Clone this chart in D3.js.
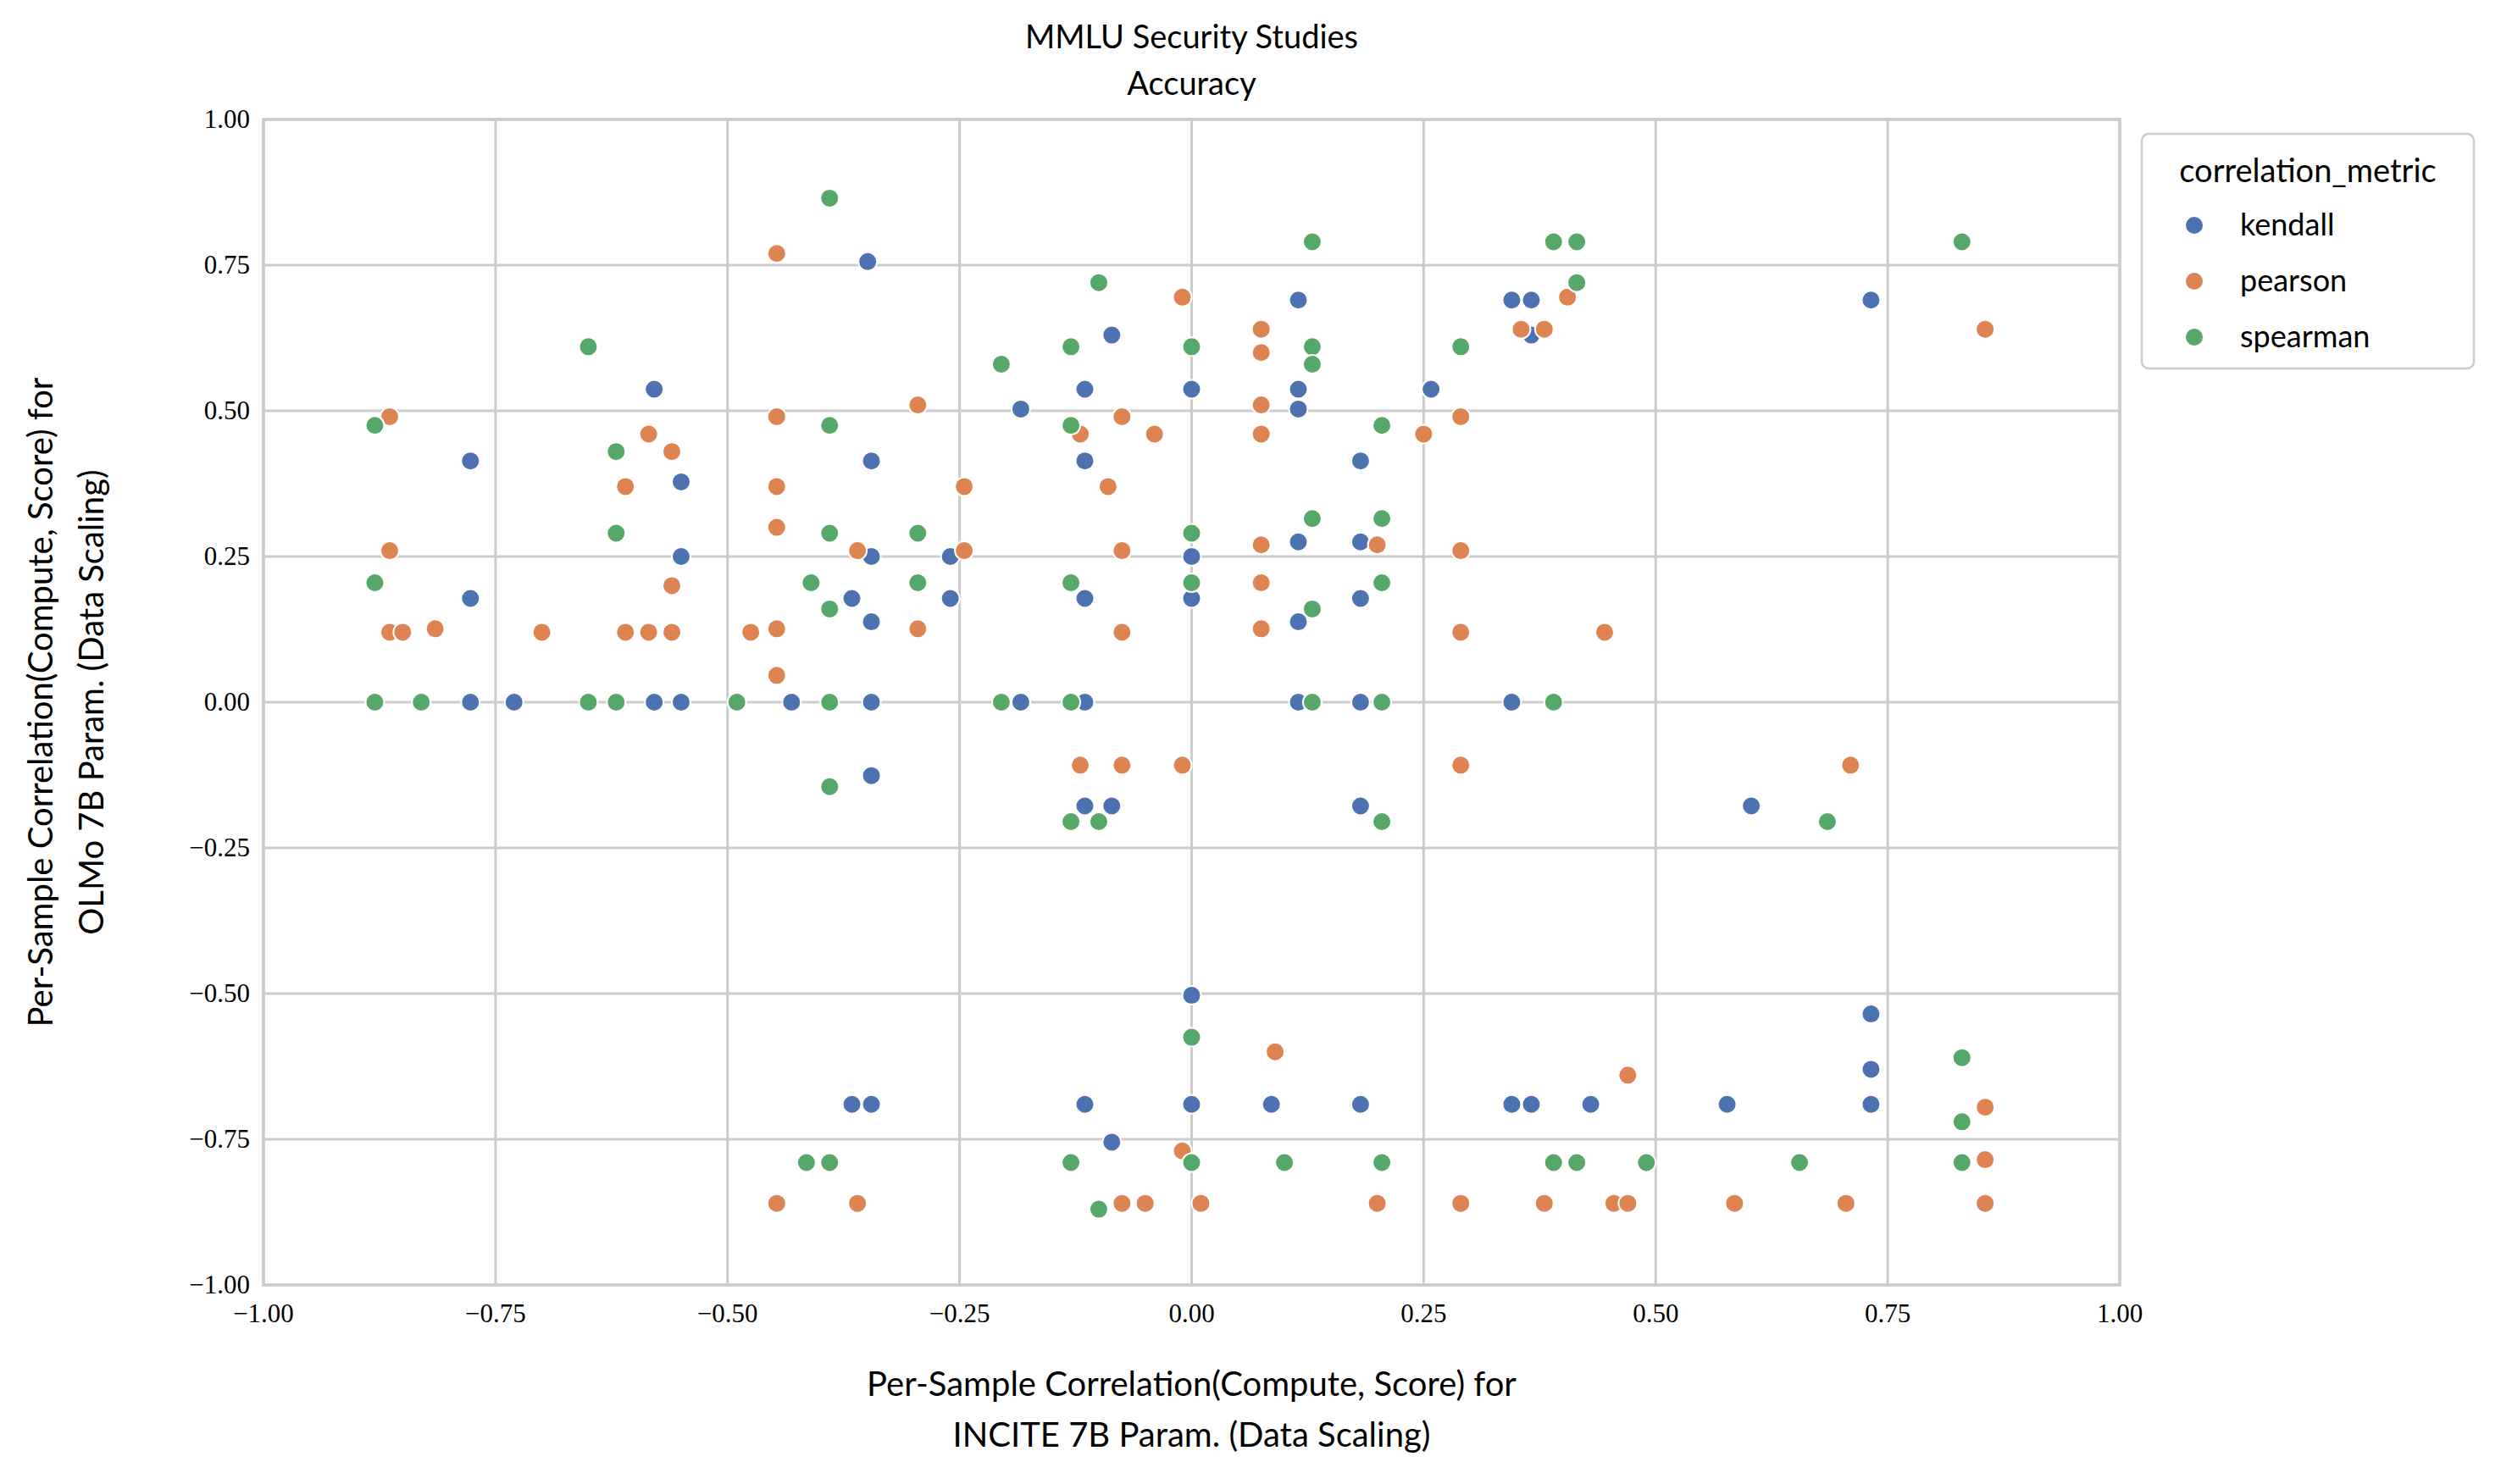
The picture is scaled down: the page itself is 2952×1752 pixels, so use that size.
<!DOCTYPE html>
<html><head><meta charset="utf-8">
<script src="https://cdn.jsdelivr.net/npm/d3@7"></script>
<style>body{margin:0;background:#fff}</style>
</head><body>
<svg id="c" width="2952" height="1752"></svg>
<script>
const metrics = ["kendall","pearson","spearman"];
const colors = ["#4c72b0","#dd8452","#55a868"];
const ticks = [-1,-0.75,-0.5,-0.25,0,0.25,0.5,0.75,1];
const kendall = [[-0.777,0.414],[-0.777,0.178],[-0.777,0],[-0.73,0],[-0.579,0.537],[-0.579,0],[-0.55,0.378],[-0.55,0.25],[-0.55,0],[-0.431,0],[-0.366,0.178],[-0.349,0.756],[-0.345,0.414],[-0.345,0.25],[-0.345,0.138],[-0.345,0],[-0.345,-0.126],[-0.26,0.25],[-0.26,0.178],[-0.184,0.503],[-0.184,0],[-0.115,0.537],[-0.115,0.414],[-0.115,0.178],[-0.115,0],[-0.115,-0.178],[-0.086,0.63],[-0.086,-0.178],[0,0.537],[0,0.25],[0,0.178],[0.115,0.69],[0.115,0.537],[0.115,0.503],[0.115,0.275],[0.115,0.138],[0.115,0],[0.182,0.414],[0.182,0.275],[0.182,0.178],[0.182,0],[0.182,-0.178],[0.258,0.537],[0.345,0.69],[0.366,0.69],[0.366,0.63],[0.345,0],[0.603,-0.178],[0.732,0.69],[0,-0.503],[-0.366,-0.69],[-0.345,-0.69],[-0.115,-0.69],[-0.086,-0.755],[0,-0.69],[0.086,-0.69],[0.182,-0.69],[0.345,-0.69],[0.366,-0.69],[0.43,-0.69],[0.577,-0.69],[0.732,-0.535],[0.732,-0.63],[0.732,-0.69]];
const pearson = [[-0.864,0.49],[-0.864,0.26],[-0.864,0.12],[-0.85,0.12],[-0.815,0.126],[-0.7,0.12],[-0.585,0.46],[-0.61,0.37],[-0.56,0.43],[-0.56,0.2],[-0.61,0.12],[-0.585,0.12],[-0.56,0.12],[-0.447,0.77],[-0.447,0.49],[-0.447,0.37],[-0.447,0.3],[-0.447,0.126],[-0.447,0.046],[-0.475,0.12],[-0.36,0.26],[-0.295,0.51],[-0.295,0.126],[-0.245,0.37],[-0.245,0.26],[-0.12,0.46],[-0.09,0.37],[-0.075,0.49],[-0.075,0.26],[-0.075,0.12],[-0.04,0.46],[-0.01,0.695],[0.075,0.64],[0.075,0.6],[0.075,0.51],[0.075,0.46],[0.075,0.27],[0.075,0.205],[0.075,0.126],[0.2,0.27],[0.25,0.46],[0.29,0.49],[0.29,0.26],[0.29,0.12],[0.29,-0.108],[0.355,0.64],[0.38,0.64],[0.405,0.695],[0.445,0.12],[0.855,0.64],[-0.12,-0.108],[-0.075,-0.108],[-0.01,-0.108],[0.71,-0.108],[-0.447,-0.86],[-0.36,-0.86],[-0.075,-0.86],[-0.05,-0.86],[0.01,-0.86],[-0.01,-0.77],[0.09,-0.6],[0.2,-0.86],[0.29,-0.86],[0.38,-0.86],[0.455,-0.86],[0.47,-0.86],[0.585,-0.86],[0.705,-0.86],[0.855,-0.86],[0.47,-0.64],[0.855,-0.695],[0.855,-0.785]];
const spearman = [[-0.88,0.475],[-0.88,0.205],[-0.88,0],[-0.83,0],[-0.65,0.61],[-0.65,0],[-0.62,0.43],[-0.62,0.29],[-0.62,0],[-0.49,0],[-0.41,0.205],[-0.39,0.865],[-0.39,0.475],[-0.39,0.29],[-0.39,0.16],[-0.39,0],[-0.39,-0.145],[-0.295,0.29],[-0.295,0.205],[-0.205,0.58],[-0.205,0],[-0.13,0.61],[-0.13,0.475],[-0.13,0.205],[-0.13,0],[-0.13,-0.205],[-0.1,0.72],[-0.1,-0.205],[0,0.61],[0,0.29],[0,0.205],[0.13,0.79],[0.13,0.61],[0.13,0.58],[0.13,0.315],[0.13,0.16],[0.13,0],[0.205,0.475],[0.205,0.315],[0.205,0.205],[0.205,0],[0.205,-0.205],[0.29,0.61],[0.39,0.79],[0.415,0.79],[0.415,0.72],[0.39,0],[0.685,-0.205],[0.83,0.79],[-0.415,-0.79],[-0.39,-0.79],[-0.13,-0.79],[-0.1,-0.87],[0,-0.575],[0,-0.79],[0.1,-0.79],[0.205,-0.79],[0.39,-0.79],[0.415,-0.79],[0.49,-0.79],[0.655,-0.79],[0.83,-0.61],[0.83,-0.72],[0.83,-0.79]];
const series = [kendall,pearson,spearman];

const svg = d3.select("#c");
const L=311,R=2502,T=141,B=1517;
const x = d3.scaleLinear().domain([-1,1]).range([L,R]);
const y = d3.scaleLinear().domain([-1,1]).range([B,T]);
const serif = "'Liberation Serif','DejaVu Serif',serif";
const sans = "Lato,'Open Sans',sans-serif";
const g = svg.append("g");
g.selectAll(".gx").data(ticks).enter().append("line").attr("x1",d=>x(d)).attr("x2",d=>x(d)).attr("y1",T).attr("y2",B).attr("stroke","#cccccc").attr("stroke-width",3);
g.selectAll(".gy").data(ticks).enter().append("line").attr("y1",d=>y(d)).attr("y2",d=>y(d)).attr("x1",L).attr("x2",R).attr("stroke","#cccccc").attr("stroke-width",3);
svg.append("rect").attr("x",L).attr("y",T).attr("width",R-L).attr("height",B-T).attr("fill","none").attr("stroke","#cccccc").attr("stroke-width",3.5);
const fmt = d => (d<0?"\u2212":"")+Math.abs(d).toFixed(2);
svg.selectAll(".tx").data(ticks).enter().append("text").attr("x",d=>x(d)).attr("y",B+44).attr("text-anchor","middle").attr("font-family",serif).attr("font-size",31).text(fmt);
svg.selectAll(".ty").data(ticks).enter().append("text").attr("x",L-16).attr("y",d=>y(d)+10).attr("text-anchor","end").attr("font-family",serif).attr("font-size",31).text(fmt);
series.forEach((s,i)=>{
  svg.append("g").selectAll("circle").data(s).enter().append("circle")
    .attr("cx",d=>x(d[0])).attr("cy",d=>y(d[1])).attr("r",11)
    .attr("fill",colors[i]).attr("stroke","#fff").attr("stroke-width",2);
});
svg.append("text").attr("x",(L+R)/2).attr("y",57).attr("text-anchor","middle").attr("font-family",sans).attr("font-size",38).text("MMLU Security Studies");
svg.append("text").attr("x",(L+R)/2).attr("y",112).attr("text-anchor","middle").attr("font-family",sans).attr("font-size",38).text("Accuracy");
svg.append("text").attr("x",(L+R)/2).attr("y",1648).attr("text-anchor","middle").attr("font-family",sans).attr("font-size",40).text("Per-Sample Correlation(Compute, Score) for");
svg.append("text").attr("x",(L+R)/2).attr("y",1708).attr("text-anchor","middle").attr("font-family",sans).attr("font-size",40).text("INCITE 7B Param. (Data Scaling)");
const yl = svg.append("text").attr("transform",`translate(0,${(T+B)/2}) rotate(-90)`).attr("text-anchor","middle").attr("font-family",sans).attr("font-size",40);
yl.append("tspan").attr("x",0).attr("y",62).text("Per-Sample Correlation(Compute, Score) for");
yl.append("tspan").attr("x",0).attr("y",122).text("OLMo 7B Param. (Data Scaling)");
const lg = svg.append("g");
lg.append("rect").attr("x",2528).attr("y",158).attr("width",392).attr("height",277).attr("rx",8).attr("fill","#fff").attr("stroke","#cccccc").attr("stroke-width",2.5);
lg.append("text").attr("x",2724).attr("y",215).attr("text-anchor","middle").attr("font-family",sans).attr("font-size",38).text("correlation_metric");
metrics.forEach((m,i)=>{
  const yy=266+i*66;
  lg.append("circle").attr("cx",2590).attr("cy",yy).attr("r",11).attr("fill",colors[i]).attr("stroke","#fff").attr("stroke-width",2);
  lg.append("text").attr("x",2644).attr("y",yy+12).attr("font-family",sans).attr("font-size",36).text(m);
});
</script>
</body></html>
